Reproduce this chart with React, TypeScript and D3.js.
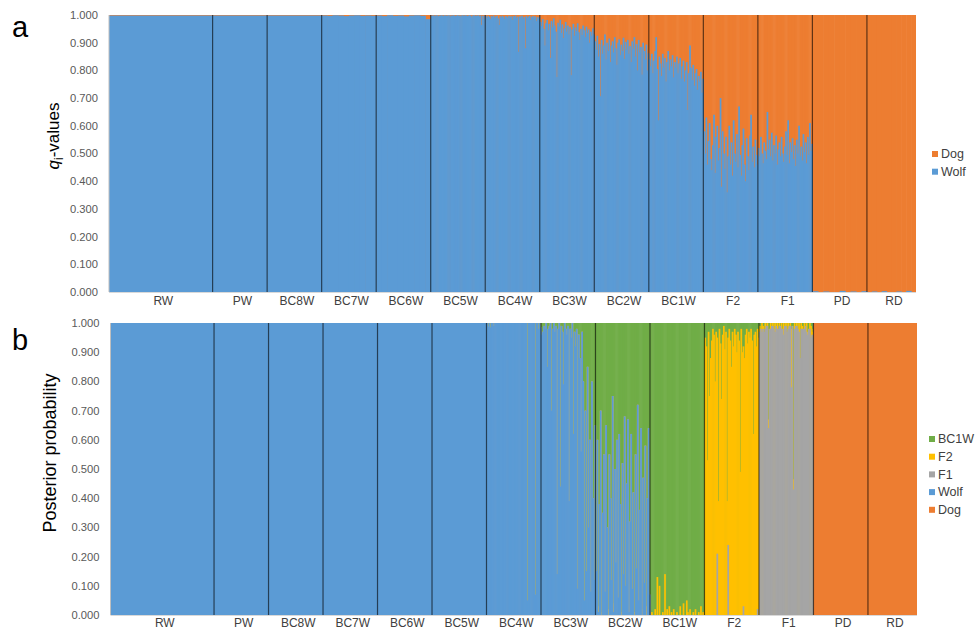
import React, { useEffect, useRef } from "react";
import * as d3 from "d3";

const GROUPS = ["RW", "PW", "BC8W", "BC7W", "BC6W", "BC5W", "BC4W", "BC3W", "BC2W", "BC1W", "F2", "F1", "PD", "RD"];
// individuals per group (sets the width of each block)
const GROUP_SIZES = [190, 100, 100, 100, 100, 100, 100, 100, 100, 100, 100, 100, 100, 90];
const Y_TICKS = [0, 0.1, 0.2, 0.3, 0.4, 0.5, 0.6, 0.7, 0.8, 0.9, 1.0];

// (a) wolf q-values of sampled individuals, dog q = 1 - wolf q
const Q_RW = [0.998];
const Q_PW = [0.998];
const Q_BC8W = [0.998];
const Q_BC7W = [0.998, 0.997, 0.999, 0.998, 0.996, 0.998, 0.999, 0.997, 0.998, 0.997];
const Q_BC6W = [0.998, 0.996, 0.999, 0.997, 0.998, 0.995, 0.998, 0.999, 0.997, 0.985];
const Q_BC5W = [0.998, 0.997, 0.999, 0.996, 0.998, 0.999, 0.995, 0.998, 0.997, 0.999,
  0.998, 0.996, 0.999, 0.998, 0.997, 0.998, 0.999, 0.994, 0.998, 0.997,
  0.999, 0.998, 0.996, 0.998, 0.999, 0.997, 0.998, 0.995, 0.999, 0.998,
  0.997, 0.999, 0.998, 0.996, 0.998, 0.999, 0.997, 0.992, 0.998, 0.999,
  0.996, 0.998, 0.997, 0.999, 0.995, 0.998, 0.964, 0.997, 0.985, 0.998];
const Q_BC4W = [0.995, 0.990, 0.997, 0.993, 0.985, 0.996, 0.992, 0.998, 0.990, 0.994,
  0.997, 0.988, 0.964, 0.995, 0.991, 0.997, 0.993, 0.986, 0.996, 0.994,
  0.990, 0.997, 0.992, 0.995, 0.983, 0.996, 0.993, 0.998, 0.989, 0.994,
  0.867, 0.995, 0.991, 0.997, 0.986, 0.993, 0.880, 0.996, 0.990, 0.994,
  0.997, 0.982, 0.993, 0.996, 0.989, 0.995, 0.978, 0.992, 0.987, 0.994];
const Q_BC3W = [0.975, 0.960, 0.985, 0.950, 0.890, 0.970, 0.982, 0.945, 0.968, 0.845,
  0.978, 0.955, 0.988, 0.962, 0.940, 0.776, 0.972, 0.958, 0.983, 0.935,
  0.966, 0.917, 0.952, 0.975, 0.940, 0.962, 0.930, 0.957, 0.783, 0.948,
  0.968, 0.925, 0.955, 0.942, 0.970, 0.938, 0.910, 0.950, 0.928, 0.962,
  0.945, 0.920, 0.958, 0.935, 0.948, 0.900, 0.940, 0.925, 0.952, 0.930];
const Q_BC2W = [0.905, 0.875, 0.925, 0.850, 0.895, 0.707, 0.910, 0.860, 0.890, 0.930,
  0.840, 0.900, 0.870, 0.915, 0.830, 0.890, 0.905, 0.865, 0.920, 0.880,
  0.820, 0.900, 0.912, 0.855, 0.893, 0.870, 0.918, 0.842, 0.903, 0.875,
  0.910, 0.860, 0.888, 0.830, 0.905, 0.878, 0.920, 0.850, 0.895, 0.800,
  0.910, 0.865, 0.885, 0.785, 0.900, 0.870, 0.840, 0.893, 0.800, 0.862];
const Q_BC1W = [0.840, 0.815, 0.860, 0.790, 0.835, 0.870, 0.920, 0.805, 0.620, 0.850,
  0.825, 0.780, 0.860, 0.810, 0.845, 0.760, 0.830, 0.870, 0.800, 0.840,
  0.815, 0.855, 0.775, 0.830, 0.810, 0.850, 0.790, 0.825, 0.845, 0.770,
  0.815, 0.835, 0.760, 0.800, 0.830, 0.657, 0.790, 0.890, 0.810, 0.765,
  0.820, 0.745, 0.790, 0.805, 0.730, 0.780, 0.760, 0.795, 0.720, 0.770];
const Q_F2 = [0.580, 0.500, 0.630, 0.460, 0.545, 0.610, 0.480, 0.440, 0.530, 0.640,
  0.430, 0.560, 0.600, 0.475, 0.520, 0.700, 0.380, 0.580, 0.500, 0.445,
  0.560, 0.360, 0.490, 0.600, 0.460, 0.540, 0.420, 0.620, 0.500, 0.470,
  0.570, 0.450, 0.670, 0.495, 0.420, 0.530, 0.590, 0.460, 0.400, 0.555,
  0.490, 0.440, 0.565, 0.640, 0.470, 0.525, 0.450, 0.550, 0.495, 0.460];
const Q_F1 = [0.520, 0.490, 0.560, 0.500, 0.465, 0.540, 0.510, 0.480, 0.650, 0.515,
  0.550, 0.490, 0.575, 0.475, 0.530, 0.500, 0.565, 0.460, 0.515, 0.540,
  0.490, 0.560, 0.500, 0.470, 0.525, 0.580, 0.495, 0.620, 0.465, 0.540,
  0.505, 0.555, 0.480, 0.530, 0.455, 0.550, 0.500, 0.600, 0.490, 0.525,
  0.475, 0.570, 0.505, 0.540, 0.465, 0.560, 0.495, 0.610, 0.510, 0.535];
const Q_PD = [0.003, 0, 0.002, 0, 0, 0.004, 0, 0.002, 0, 0.003];
const Q_RD = [0, 0.002, 0, 0.003, 0, 0, 0.002, 0, 0.004, 0];
const Q_VALUES = [Q_RW, Q_PW, Q_BC8W, Q_BC7W, Q_BC6W, Q_BC5W, Q_BC4W, Q_BC3W, Q_BC2W, Q_BC1W, Q_F2, Q_F1, Q_PD, Q_RD];

// (b) posterior probabilities; main class of each group gets the remainder
const B_KEYS = ["Dog", "Wolf", "F1", "F2", "BC1W"]; // stack order, bottom -> top
const B_LEGEND = ["BC1W", "F2", "F1", "Wolf", "Dog"];
const B_MAIN = ["Wolf", "Wolf", "Wolf", "Wolf", "Wolf", "Wolf", "Wolf", "Wolf", "Wolf", "BC1W", "F2", "F1", "Dog", "Dog"];
const B_BC4W_BC1W = [0, 0.012, 0, 0.015, 0, 0, 0.01, 0, 0, 0,
  0, 0, 0, 0, 0, 0, 0, 0, 0, 0,
  0, 0, 0, 0, 0, 0, 0, 0, 0, 0,
  0, 0, 0, 0, 0, 0, 0, 0.95, 0, 0,
  0, 0, 0, 0, 0.93, 0, 0, 0.02, 0, 0.015];
const B_BC3W_BC1W = [0.04, 0.03, 0.01, 0.02, 0, 0.15, 0.02, 0.01, 0, 0.30,
  0.02, 0, 0.03, 0.01, 0.86, 0.02, 0, 0.56, 0.01, 0.03,
  0.21, 0, 0.02, 0.04, 0.01, 0.61, 0.02, 0.05, 0, 0.38,
  0.03, 0.08, 0.02, 0.91, 0.04, 0.12, 0.44, 0.03, 0.20, 0.95,
  0.30, 0.85, 0.15, 0.70, 0.40, 0.92, 0.20, 0.60, 0.88, 0.35];
const B_BC2W_BC1W = [0.85, 0.40, 0.97, 0.62, 0.30, 0.99, 0.65, 0.45, 0.92, 0.35,
  0.70, 0.98, 0.45, 0.60, 0.88, 0.25, 0.96, 0.50, 0.82, 0.40,
  0.94, 0.38, 0.62, 0.99, 0.48, 0.86, 0.32, 0.90, 0.55, 0.33,
  0.97, 0.68, 0.38, 0.91, 0.58, 0.99, 0.45, 0.84, 0.28, 0.95,
  0.64, 0.36, 0.98, 0.53, 0.89, 0.42, 0.97, 0.60, 0.36, 0.93];
const B_BC2W_F2 = [0, 0, 0.02, 0, 0, 0.01, 0, 0, 0, 0,
  0, 0.02, 0, 0, 0, 0, 0.03, 0, 0, 0,
  0, 0, 0, 0.01, 0, 0, 0, 0, 0, 0,
  0.02, 0, 0, 0, 0, 0.01, 0, 0, 0, 0,
  0, 0, 0.02, 0, 0, 0, 0.03, 0, 0, 0];
const B_BC1W_F2 = [0, 0.01, 0, 0, 0.02, 0, 0.13, 0, 0.10, 0,
  0, 0.01, 0, 0.14, 0, 0.02, 0, 0.03, 0, 0.01,
  0, 0.02, 0, 0, 0.01, 0, 0, 0.03, 0, 0,
  0.04, 0, 0, 0.05, 0.01, 0, 0.02, 0, 0, 0.01,
  0, 0.02, 0, 0, 0.01, 0, 0.03, 0, 0.01, 0];
const B_F2_BC1W = [0.05, 0.08, 0.47, 0.03, 0.25, 0.12, 0.06, 0.02, 0.04, 0.20,
  0.03, 0.05, 0.61, 0.02, 0.07, 0.26, 0.04, 0.01, 0.09, 0.03,
  0.61, 0.05, 0.02, 0.06, 0.15, 0.03, 0.08, 0.02, 0.04, 0.10,
  0.03, 0.06, 0.51, 0.02, 0.10, 0.08, 0.12, 0.04, 0.02, 0.07,
  0.03, 0.05, 0.02, 0.06, 0.38, 0.04, 0.03, 0.08, 0.02, 0.05];
const B_F2_F1 = [0, 0, 0, 0, 0, 0, 0, 0, 0, 0,
  0, 0.21, 0, 0, 0, 0, 0, 0, 0, 0,
  0, 0.24, 0, 0, 0, 0, 0, 0, 0, 0,
  0, 0, 0, 0, 0, 0.03, 0, 0, 0, 0,
  0, 0, 0, 0, 0, 0, 0, 0, 0.02, 0];
const B_F1_F2 = [0.02, 0, 0.03, 0.01, 0, 0.02, 0, 0.01, 0.03, 0,
  0.02, 0, 0.01, 0, 0.03, 0, 0.02, 0, 0.01, 0,
  0.02, 0, 0.04, 0, 0.01, 0, 0.02, 0, 0.01, 0.20,
  0, 0.035, 0.02, 0, 0.01, 0, 0.03, 0, 0.02, 0.01,
  0, 0.02, 0, 0.03, 0.01, 0, 0.02, 0.04, 0.01, 0.03];
const B_F1_BC1W = [0.01, 0.02, 0, 0.01, 0.03, 0, 0.01, 0, 0.33, 0.02,
  0, 0.01, 0, 0.02, 0, 0.01, 0, 0.02, 0, 0.01,
  0, 0.02, 0, 0.01, 0, 0.03, 0, 0.01, 0, 0.02,
  0.01, 0.535, 0, 0.01, 0, 0.02, 0, 0.12, 0, 0.01,
  0.02, 0, 0.01, 0, 0.03, 0.02, 0, 0.01, 0.03, 0.02];

const COLORS: Record<string, string> = {
  Dog: "#ED7D31",
  Wolf: "#5B9BD5",
  F1: "#A5A5A5",
  F2: "#FFC000",
  BC1W: "#70AD47",
};

const FONT = "'Liberation Sans', Arial, sans-serif";

function App() {
  const svgRef = useRef<SVGSVGElement>(null);

  useEffect(() => {
    const svg = d3.select(svgRef.current);
    svg.selectAll("*").remove();

    const starts = [0, ...Array.from(d3.cumsum(GROUP_SIZES))];
    const total = d3.sum(GROUP_SIZES);

    // rows for panel a
    const rowsA: any[] = [];
    Q_VALUES.forEach((arr, gi) => {
      arr.forEach((q, i) => {
        rowsA.push({ gi, i, n: arr.length, Wolf: q, Dog: 1 - q });
      });
    });

    // rows for panel b
    const minor: Record<string, Record<string, number[]>> = {
      BC4W: { BC1W: B_BC4W_BC1W },
      BC3W: { BC1W: B_BC3W_BC1W },
      BC2W: { BC1W: B_BC2W_BC1W, F2: B_BC2W_F2 },
      BC1W: { F2: B_BC1W_F2 },
      F2: { BC1W: B_F2_BC1W, F1: B_F2_F1 },
      F1: { F2: B_F1_F2, BC1W: B_F1_BC1W },
    };
    const rowsB: any[] = [];
    GROUPS.forEach((g, gi) => {
      const m = minor[g] || {};
      const ks = Object.keys(m);
      const n = ks.length ? d3.max(ks, (k) => m[k].length)! : 1;
      for (let i = 0; i < n; i++) {
        const row: any = { gi, i, n, Dog: 0, Wolf: 0, F1: 0, F2: 0, BC1W: 0 };
        let s = 0;
        ks.forEach((k) => {
          row[k] = m[k][i];
          s += m[k][i];
        });
        row[B_MAIN[gi]] = 1 - s;
        rowsB.push(row);
      }
    });

    function drawPanel(opts: any) {
      const { rows, keys, left, right, top, bottom } = opts;
      const x = d3.scaleLinear().domain([0, total]).range([left, right]);
      const y = d3.scaleLinear().domain([0, 1]).range([bottom, top]);
      const x0 = (r: any) => x(starts[r.gi] + (GROUP_SIZES[r.gi] * r.i) / r.n);
      const x1 = (r: any) => x(starts[r.gi] + (GROUP_SIZES[r.gi] * (r.i + 1)) / r.n);

      const g = svg.append("g");
      g.append("clipPath")
        .attr("id", opts.id)
        .append("rect")
        .attr("x", left)
        .attr("y", top)
        .attr("width", right - left)
        .attr("height", bottom - top);

      const stacked = d3.stack<any>().keys(keys)(rows);
      const bars = g.append("g").attr("clip-path", `url(#${opts.id})`);
      // draw from the top layer down so each segment is filled without seams
      stacked
        .slice()
        .reverse()
        .forEach((layer) => {
          bars
            .append("g")
            .attr("fill", COLORS[layer.key])
            .selectAll("rect")
            .data(layer)
            .join("rect")
            .attr("x", (d) => x0(d.data))
            .attr("width", (d) => x1(d.data) - x0(d.data) + 0.6)
            .attr("y", (d) => y(d[1]))
            .attr("height", (d) => Math.max(0, y(0) - y(d[1])));
        });

      // group dividers
      g.append("g")
        .selectAll("line")
        .data(starts.slice(1, GROUPS.length))
        .join("line")
        .attr("x1", (d) => x(d))
        .attr("x2", (d) => x(d))
        .attr("y1", top)
        .attr("y2", bottom)
        .attr("stroke", "#000")
        .attr("stroke-opacity", 0.6)
        .attr("stroke-width", 1.2);

      // axis lines
      g.append("line")
        .attr("x1", left).attr("x2", left)
        .attr("y1", top).attr("y2", bottom)
        .attr("stroke", "#BFBFBF");
      g.append("line")
        .attr("x1", left).attr("x2", right)
        .attr("y1", bottom + 0.5).attr("y2", bottom + 0.5)
        .attr("stroke", "#D9D9D9");

      // y tick labels
      g.append("g")
        .selectAll("text")
        .data(Y_TICKS)
        .join("text")
        .attr("x", left - 11)
        .attr("y", (d) => y(d))
        .attr("dy", "0.35em")
        .attr("text-anchor", "end")
        .attr("font-family", FONT)
        .attr("font-size", 11.2)
        .attr("fill", "#595959")
        .text((d) => d3.format(".3f")(d));

      // group labels
      g.append("g")
        .selectAll("text")
        .data(GROUPS)
        .join("text")
        .attr("x", (d, i) => (x(starts[i]) + x(starts[i + 1])) / 2 + 2.5)
        .attr("y", opts.labelY)
        .attr("dy", "0.35em")
        .attr("text-anchor", "middle")
        .attr("font-family", FONT)
        .attr("font-size", 12)
        .attr("fill", "#404040")
        .text((d) => d);

      // axis title
      const t = g
        .append("text")
        .attr("transform", `translate(${opts.titleX},${opts.titleY}) rotate(-90)`)
        .attr("text-anchor", "middle")
        .attr("font-family", FONT)
        .attr("font-size", opts.titleSize)
        .attr("fill", "#000");
      opts.title(t);

      // panel letter
      g.append("text")
        .attr("x", 12)
        .attr("y", opts.letterY)
        .attr("font-family", FONT)
        .attr("font-size", 29)
        .attr("fill", "#000")
        .text(opts.letter);

      // legend
      const lg = g
        .append("g")
        .selectAll("g")
        .data(opts.legend)
        .join("g")
        .attr("transform", (d: string, i: number) => `translate(${opts.legendX},${opts.legendY + i * 17.7})`);
      lg.append("rect")
        .attr("x", 0)
        .attr("y", -3)
        .attr("width", 6)
        .attr("height", 6)
        .attr("fill", (d: string) => COLORS[d]);
      lg.append("text")
        .attr("x", 9)
        .attr("y", 0)
        .attr("dy", "0.35em")
        .attr("font-family", FONT)
        .attr("font-size", 12.5)
        .attr("fill", "#404040")
        .text((d: string) => d);
    }

    drawPanel({
      id: "clipA",
      rows: rowsA,
      keys: ["Wolf", "Dog"],
      left: 109,
      right: 916,
      top: 15,
      bottom: 292,
      letter: "a",
      letterY: 37,
      titleX: 59,
      titleY: 136,
      titleSize: 17,
      title: (t: any) => {
        t.append("tspan").attr("font-style", "italic").text("q");
        t.append("tspan").attr("dy", 4).attr("font-size", 12).text("i");
        t.append("tspan").attr("dy", -4).text("-values");
      },
      legend: ["Dog", "Wolf"],
      legendX: 932,
      legendY: 154,
      labelY: 301,
    });

    drawPanel({
      id: "clipB",
      rows: rowsB,
      keys: B_KEYS,
      left: 110.5,
      right: 917,
      top: 323,
      bottom: 615,
      letter: "b",
      letterY: 350,
      titleX: 56,
      titleY: 453,
      titleSize: 18,
      title: (t: any) => {
        t.text("Posterior probability");
      },
      legend: B_LEGEND,
      legendX: 929,
      legendY: 439,
      labelY: 623,
    });
  }, []);

  return (
    <svg
      ref={svgRef}
      width={975}
      height={629}
      style={{ position: "absolute", left: 0, top: 0, background: "#fff" }}
    ></svg>
  );
}

export default App;
